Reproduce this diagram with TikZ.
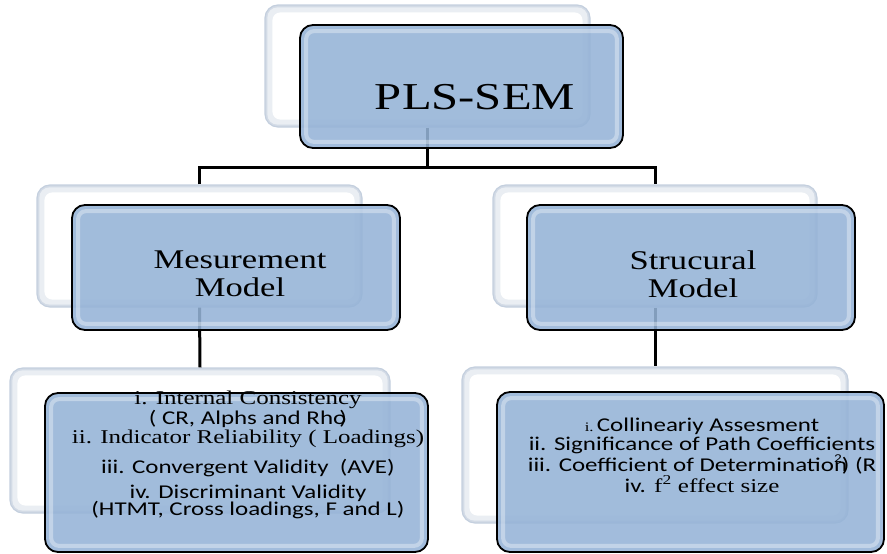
\documentclass[tikz,border=0pt]{standalone}
\usepackage{fontspec}
\setmainfont{Liberation Serif}[FakeStretch=1.28]
\newfontfamily\calib{Carlito}[FakeStretch=1.28]
\definecolor{boxblue}{RGB}{149,179,215}
\definecolor{backedge}{RGB}{196,207,222}
\tikzset{
  backbox/.style={draw=backedge, line width=1.2pt, fill=backedge!75, rounded corners=13pt, inner sep=0pt},
  frontbox/.style={draw=black, line width=1.8pt, fill=boxblue, fill opacity=0.88, rounded corners=13pt, inner sep=0pt},
  glow/.style={draw=white, draw opacity=0.35, line width=4pt, rounded corners=8pt},
  backring/.style={fill=backedge!35, rounded corners=10pt},
  backcore/.style={fill=white, rounded corners=8pt},
  link/.style={line width=3pt},
  title/.style={font=\fontsize{38}{40}\selectfont},
  model/.style={font=\fontsize{27}{28}\selectfont, align=center},
  items/.style={align=center, inner sep=0pt},
}
\begin{document}
\begin{tikzpicture}[x=1pt,y=-1pt]
    \useasboundingbox (0,0) rectangle (887,554);
    % riquadri chiari dietro
    \node[backbox, minimum width=325pt, minimum height=122pt] (plsBack) at (427.5,66) {};
    \node[backbox, minimum width=325pt, minimum height=122pt] (mesBack) at (199.5,246) {};
    \node[backbox, minimum width=324pt, minimum height=122pt] (strBack) at (655,246) {};
    \node[backbox, minimum width=380pt, minimum height=145pt] (mesListBack) at (200,440.5) {};
    \node[backbox, minimum width=386pt, minimum height=156pt] (strListBack) at (655,445) {};
    \foreach \b in {plsBack,mesBack,strBack,mesListBack,strListBack} {
        \fill[backring] ([shift={(3,3)}]\b.north west) rectangle ([shift={(-3,-3)}]\b.south east);
        \fill[backcore] ([shift={(8,8)}]\b.north west) rectangle ([shift={(-8,-8)}]\b.south east);
    }
    % collegamenti
    \coordinate (fork) at (427.5,167);
    \draw[link] (plsBack.south) -- (fork);
    \draw[link] (mesBack.north) |- (fork) -| (strBack.north);
    \draw[link] (mesBack.south) -- (mesListBack.north);
    \draw[link] (strBack.south) -- (strListBack.north);
    % riquadri blu davanti
    \node[frontbox, minimum width=323pt, minimum height=123pt] (pls) at (461.5,86.5) {};
    \node[frontbox, minimum width=328pt, minimum height=125pt] (mes) at (236,267.5) {};
    \node[frontbox, minimum width=328pt, minimum height=125pt] (str) at (691,267.5) {};
    \node[frontbox, minimum width=383pt, minimum height=159pt] (mesList) at (236.5,472.5) {};
    \node[frontbox, minimum width=387pt, minimum height=160pt] (strList) at (690.5,472) {};
    \foreach \f in {pls,mes,str,mesList,strList}
        \draw[glow] ([shift={(7,7)}]\f.north west) rectangle ([shift={(-7,-7)}]\f.south east);
    % testi
    \node[title] (plsText) at (475,97) {PLS-SEM};
    \node[model] (mesText) at (240,274) {Mesurement\\Model};
    \node[model] (strText) at (693,274) {Strucural\\Model};
    \node[items, font=\fontsize{19.5}{13}\selectfont] (mesItems) at (248,455)
        {i. Internal Consistency\\
         {\calib ( CR, Alphs and Rho\kern-0.35em)}\\[2pt]
         ii. Indicator Reliability ( Loadings)\\[10pt]
         {\calib iii. Convergent Validity~ (AVE)}\\[7pt]
         {\calib iv. Discriminant Validity}\\[-1pt]
         {\calib (HTMT, Cross loadings, F and L)}};
    \node[items, font=\fontsize{19.5}{19}\selectfont] (strItems) at (702,455)
        {{\fontsize{13}{13}\selectfont i.}\,{\calib Collineariy Assesment}\\
         {\calib ii. Significance of Path Coefficients}\\
         {\calib iii. Coefficient of Determinatio\rlap{n}\raisebox{0.5em}{\fontsize{12}{12}\selectfont 2}) (R}\\
         {\calib iv.} f\textsuperscript{2} effect size};
\end{tikzpicture}
\end{document}
